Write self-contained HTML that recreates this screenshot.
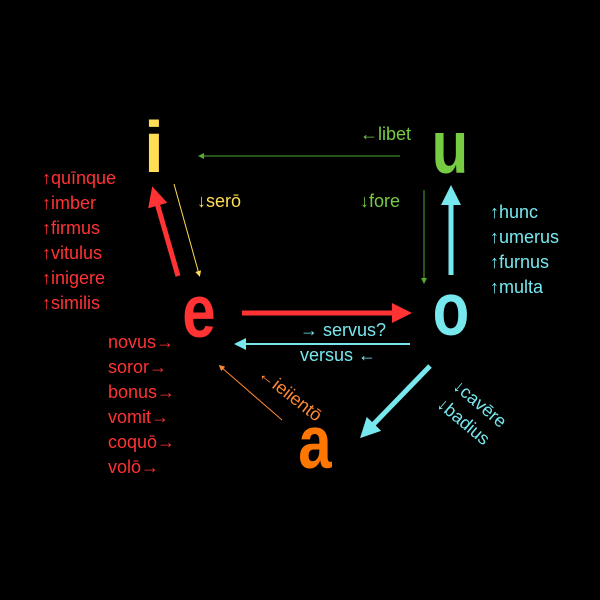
<!DOCTYPE html>
<html><head><style>html,body{margin:0;padding:0;background:#000;width:600px;height:600px;overflow:hidden}</style></head>
<body>
<svg width="600" height="600" viewBox="0 0 600 600" xmlns="http://www.w3.org/2000/svg" style="display:block">
<rect width="600" height="600" fill="#000"/>
<defs>
<marker id="hr" markerWidth="4" markerHeight="4" refX="2" refY="2" orient="auto" markerUnits="strokeWidth"><path d="M0,0 L4,2 L0,4 Z" fill="#ff3333"/></marker>
<marker id="hc" markerWidth="4" markerHeight="4" refX="2" refY="2" orient="auto" markerUnits="strokeWidth"><path d="M0,0 L4,2 L0,4 Z" fill="#77e8ee"/></marker>
<marker id="hs" markerWidth="6" markerHeight="6" refX="3" refY="3" orient="auto" markerUnits="strokeWidth"><path d="M0,0 L6,3 L0,6 Z" fill="context-stroke"/></marker>
</defs>
<g font-family="Liberation Sans, sans-serif" font-weight="bold" text-anchor="middle">
<text transform="translate(154,172) scale(1.1,1.1)" font-size="66" fill="#ffdd55">i</text>
<text transform="translate(450,173) scale(1.0,1.25)" font-size="60" fill="#77cc44">u</text>
<text transform="translate(199,337) scale(1.0,1.25)" font-size="60" fill="#ff3333">e</text>
<text transform="translate(451,335) scale(1.0,1.25)" font-size="60" fill="#77e8ee">o</text>
<text transform="translate(315,468) scale(1.0,1.25)" font-size="60" fill="#ff7700">a</text>
</g>
<line x1="178" y1="276" x2="155" y2="196" stroke="#ff3333" stroke-width="5" marker-end="url(#hr)"/>
<line x1="242" y1="313" x2="402" y2="313" stroke="#ff3333" stroke-width="5" marker-end="url(#hr)"/>
<line x1="451" y1="275" x2="451" y2="195" stroke="#77e8ee" stroke-width="5" marker-end="url(#hc)"/>
<line x1="430" y1="366" x2="367" y2="431" stroke="#77e8ee" stroke-width="5" marker-end="url(#hc)"/>
<line x1="174" y1="184" x2="199" y2="274" stroke="#ffdd55" stroke-width="1" marker-end="url(#hs)"/>
<line x1="400" y1="156" x2="201" y2="156" stroke="#55aa33" stroke-width="1" marker-end="url(#hs)"/>
<line x1="424" y1="190" x2="424" y2="281" stroke="#55aa33" stroke-width="1" marker-end="url(#hs)"/>
<line x1="410" y1="344" x2="240" y2="344" stroke="#77e8ee" stroke-width="2" marker-end="url(#hs)"/>
<line x1="282" y1="420" x2="221" y2="367" stroke="#ff8833" stroke-width="1" marker-end="url(#hs)"/>
<g font-family="Liberation Sans, sans-serif" font-size="18">
<g fill="#ff3333">
<text x="42" y="184">↑quīnque</text><text x="42" y="209">↑imber</text><text x="42" y="234">↑firmus</text><text x="42" y="259">↑vitulus</text><text x="42" y="284">↑inigere</text><text x="42" y="309">↑similis</text>
<text x="108" y="348">novus→</text><text x="108" y="373">soror→</text><text x="108" y="398">bonus→</text><text x="108" y="423">vomit→</text><text x="108" y="448">coquō→</text><text x="108" y="473">volō→</text>
</g>
<text x="197" y="207" fill="#ffdd55">↓serō</text>
<text x="360" y="140" fill="#77cc44">←libet</text>
<text x="360" y="207" fill="#77cc44">↓fore</text>
<g fill="#77e8ee">
<text x="490" y="218">↑hunc</text><text x="490" y="243">↑umerus</text><text x="490" y="268">↑furnus</text><text x="490" y="293">↑multa</text>
<text x="300" y="336">→ servus?</text><text x="300" y="361">versus ←</text>
<text transform="translate(452,388) rotate(40)">↓cavēre</text>
<text transform="translate(436,406) rotate(40)">↓badius</text>
</g>
<text transform="translate(257,376) rotate(38)" fill="#ff8833">←ieiientō</text>
</g>
</svg>
</body></html>
